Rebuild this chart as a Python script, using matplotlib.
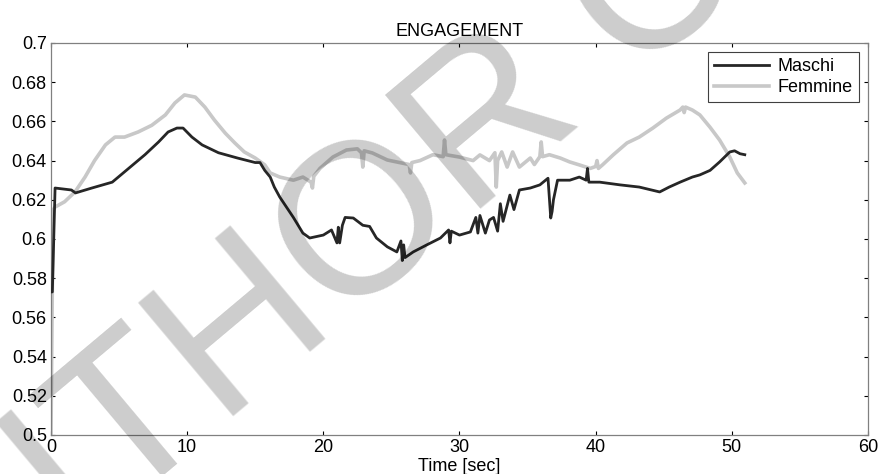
import matplotlib
matplotlib.use('Agg')
import matplotlib.pyplot as plt

plt.rcParams['font.family'] = ['Liberation Sans', 'DejaVu Sans']

# Maschi (dark line)
t_m = [0.0, 0.1, 0.3, 1.5, 1.8, 3.0, 4.5, 5.7, 6.9, 7.9, 8.6, 9.25, 9.7, 10.35,
       11.1, 12.3, 13.7, 15.0, 15.35, 15.7, 16.1, 16.4, 16.8, 17.8, 18.5, 19.0,
       20.0, 20.6, 21.0, 21.1, 21.2, 21.4, 21.6, 22.2, 22.9, 23.4, 23.9, 24.7,
       25.4, 25.7, 25.8, 25.9, 26.0, 26.6, 27.6, 28.6, 29.2, 29.3, 29.4, 30.0,
       30.8, 31.2, 31.35, 31.5, 31.9, 32.2, 32.5, 32.8, 33.0, 33.2, 33.7, 34.0,
       34.4, 35.2, 35.9, 36.5, 36.7, 36.8, 36.9, 37.2, 38.1, 38.8, 39.3, 39.4,
       39.5, 40.3, 41.8, 43.2, 44.7, 45.4, 46.2, 47.1, 47.65, 48.4, 49.1, 49.85,
       50.2, 50.6, 50.95]
v_m = [0.573, 0.573, 0.626, 0.625, 0.6235, 0.626, 0.629, 0.636, 0.643, 0.6495,
       0.6546, 0.6566, 0.6566, 0.652, 0.648, 0.644, 0.6413, 0.639, 0.639, 0.635,
       0.6316, 0.6265, 0.6214, 0.611, 0.603, 0.6005, 0.602, 0.6046, 0.598, 0.606,
       0.598, 0.607, 0.611, 0.6107, 0.607, 0.6064, 0.6005, 0.596, 0.5934, 0.599,
       0.589, 0.597, 0.5905, 0.5934, 0.597, 0.6005, 0.6046, 0.598, 0.604, 0.602,
       0.6036, 0.611, 0.603, 0.612, 0.603, 0.6097, 0.611, 0.604, 0.618, 0.609,
       0.6224, 0.615, 0.625, 0.626, 0.6276, 0.631, 0.6107, 0.614, 0.620, 0.630,
       0.630, 0.6316, 0.630, 0.636, 0.629, 0.629, 0.6276, 0.6265, 0.624, 0.6265,
       0.629, 0.6316, 0.6327, 0.635, 0.6393, 0.6444, 0.645, 0.6435, 0.643]

# Femmine (light line)
t_f = [0.0, 0.15, 0.3, 1.0, 1.76, 2.5, 3.2, 4.0, 4.7, 5.4, 6.4, 7.4, 8.4, 9.1,
       9.8, 10.6, 11.3, 12.0, 12.8, 13.5, 14.2, 15.0, 15.7, 16.1, 16.8, 17.8,
       18.5, 19.1, 19.2, 19.3, 19.75, 20.7, 21.7, 22.5, 22.8, 22.9, 23.0, 23.6,
       24.7, 25.6, 26.3, 26.4, 26.5, 27.1, 28.05, 28.8, 28.9, 29.0, 30.0, 31.0,
       31.5, 32.2, 32.6, 32.7, 32.8, 33.1, 33.5, 33.9, 34.4, 35.2, 35.5, 35.9,
       36.0, 36.1, 36.6, 37.4, 38.1, 38.8, 39.6, 40.0, 40.1, 40.2, 40.5, 41.3,
       42.3, 43.2, 44.2, 45.2, 46.2, 46.4, 46.5, 46.6, 47.1, 47.65, 48.4, 49.1,
       49.85, 50.4, 50.95]
v_f = [0.5, 0.6148, 0.6163, 0.619, 0.624, 0.6316, 0.640, 0.648, 0.652, 0.652,
       0.6546, 0.658, 0.6633, 0.6694, 0.6735, 0.6724, 0.6673, 0.6607, 0.654,
       0.649, 0.6444, 0.6413, 0.6378, 0.6337, 0.6316, 0.630, 0.6316, 0.629,
       0.626, 0.632, 0.636, 0.6418, 0.6454, 0.646, 0.644, 0.6367, 0.645, 0.6439,
       0.6403, 0.639, 0.638, 0.6337, 0.639, 0.640, 0.643, 0.642, 0.6505, 0.643,
       0.6418, 0.640, 0.6429, 0.640, 0.644, 0.6265, 0.640, 0.6444, 0.6367,
       0.6444, 0.6367, 0.6413, 0.638, 0.642, 0.6495, 0.642, 0.643, 0.6413,
       0.6393, 0.6378, 0.636, 0.637, 0.640, 0.636, 0.6378, 0.643, 0.649, 0.652,
       0.6566, 0.6617, 0.6658, 0.6673, 0.6645, 0.6673, 0.6658, 0.6633, 0.657,
       0.6505, 0.6418, 0.6337, 0.6286]

x_ticks = [0, 10, 20, 30, 40, 50, 60]
y_ticks = [0.5, 0.52, 0.54, 0.56, 0.58, 0.6, 0.62, 0.64, 0.66, 0.68, 0.7]
y_labels = ['0.5', '0.52', '0.54', '0.56', '0.58', '0.6', '0.62', '0.64',
            '0.66', '0.68', '0.7']

fig = plt.figure(figsize=(8.79, 4.74), dpi=100)
ax = fig.add_axes([0.058, 0.0823, 0.9295, 0.827])

ax.plot(t_m, v_m, color='#262626', lw=2.0, label='Maschi', zorder=3)
ax.plot(t_f, v_f, color='#c8c8c8', lw=2.6, label='Femmine', zorder=2)

ax.set_xlim(0, 60)
ax.set_ylim(0.5, 0.7)
ax.set_xticks(x_ticks)
ax.set_yticks(y_ticks)
ax.set_yticklabels(y_labels)
ax.tick_params(direction='in', length=3, width=0.8, top=True, right=True,
               labelsize=13, pad=3, colors='black')
for s in ax.spines.values():
    s.set_color('#808080')
    s.set_linewidth(0.9)

ax.set_title('ENGAGEMENT', fontsize=13, pad=5)
ax.set_xlabel('Time [sec]', fontsize=13, labelpad=1)

leg = ax.legend(loc='upper right', fancybox=False, framealpha=1,
                edgecolor='#404040', fontsize=13, handlelength=3.0,
                borderaxespad=0.5, labelspacing=0.2, handletextpad=0.5,
                borderpad=0.35)
leg.get_frame().set_linewidth(0.8)

# diagonal watermark
fig.text(0.523, 0.673, 'AUTHOR COPY', fontsize=155, rotation=40,
         rotation_mode='anchor', ha='center', va='center', color='black',
         alpha=0.2, zorder=10)

fig.savefig('out.png', dpi=100)
